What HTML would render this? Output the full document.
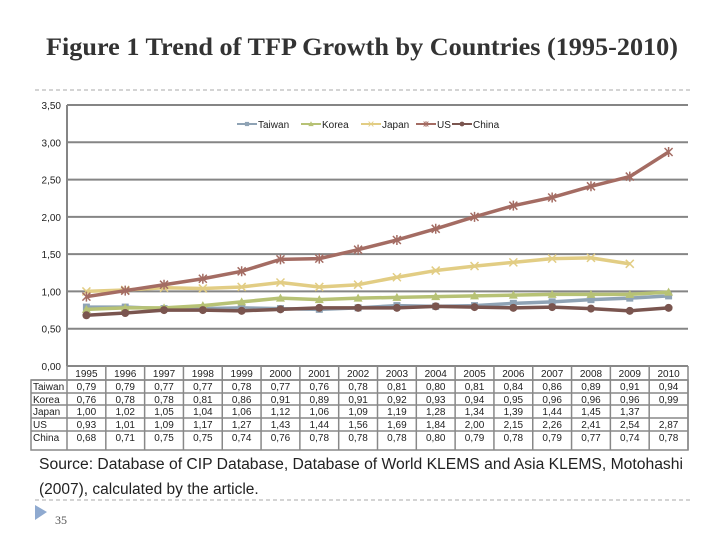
<!DOCTYPE html>
<html><head><meta charset="utf-8"><style>
body{margin:0;width:720px;height:540px;background:#fff;overflow:hidden;font-family:"Liberation Sans",sans-serif}
</style></head><body>
<svg id="s" width="720" height="540" xmlns="http://www.w3.org/2000/svg">
<text x="362" y="55" text-anchor="middle" font-family="Liberation Serif" font-weight="bold" font-size="25.5" fill="#333" textLength="632" lengthAdjust="spacingAndGlyphs">Figure 1 Trend of TFP Growth by Countries (1995-2010)</text>
<line x1="35" y1="90" x2="690" y2="90" stroke="#aaa" stroke-dasharray="4,3"/>
<line x1="35" y1="500" x2="690" y2="500" stroke="#aaa" stroke-dasharray="4,3"/>
<text x="39" y="469" font-size="15.5" fill="#222" textLength="644" lengthAdjust="spacingAndGlyphs">Source: Database of CIP Database, Database of World KLEMS and Asia KLEMS, Motohashi</text>
<text x="39" y="494" font-size="15.5" fill="#222">(2007), calculated by the article.</text>
<polygon points="35,505 47,512 35,520" fill="#8faad0"/>
<text x="55" y="524" font-family="Liberation Serif" font-size="12" fill="#555">35</text>
<g id="plot"></g>
</svg>
<script>
const years=["1995","1996","1997","1998","1999","2000","2001","2002","2003","2004","2005","2006","2007","2008","2009","2010"];
const seriesNames=["Taiwan","Korea","Japan","US","China"];
const taiwan=[0.79,0.79,0.77,0.77,0.78,0.77,0.76,0.78,0.81,0.80,0.81,0.84,0.86,0.89,0.91,0.94];
const korea=[0.76,0.78,0.78,0.81,0.86,0.91,0.89,0.91,0.92,0.93,0.94,0.95,0.96,0.96,0.96,0.99];
const japan=[1.00,1.02,1.05,1.04,1.06,1.12,1.06,1.09,1.19,1.28,1.34,1.39,1.44,1.45,1.37,null];
const us=[0.93,1.01,1.09,1.17,1.27,1.43,1.44,1.56,1.69,1.84,2.00,2.15,2.26,2.41,2.54,2.87];
const china=[0.68,0.71,0.75,0.75,0.74,0.76,0.78,0.78,0.78,0.80,0.79,0.78,0.79,0.77,0.74,0.78];
const yTicks=["0,00","0,50","1,00","1,50","2,00","2,50","3,00","3,50"];
const data=[taiwan,korea,japan,us,china];
const colors=["#8fa3b5","#b7c275","#e2cd84","#a46c63","#7a554f"];
const markers=["square","triangle","x","star","circle"];
const NS="http://www.w3.org/2000/svg";
const g=document.getElementById('plot');
const L=67,R=688,T=105,B=366,colW=(R-L)/years.length;
const x=i=>L+colW*(i+0.5);
const y=v=>B-(v/3.5)*(B-T);
function mk(t,a){const e=document.createElementNS(NS,t);for(const k in a)e.setAttribute(k,a[k]);g.appendChild(e);return e;}
yTicks.forEach((t,i)=>{const v=i*0.5;const yy=y(v);
 const l=mk('line',{x1:L,y1:yy,x2:R,y2:yy,stroke:'#858585','stroke-width':2});
 
 
 const tx=mk('text',{x:L-6,y:yy+4,'text-anchor':'end','font-size':10,fill:'#222'});tx.textContent=t;
 
 
});
const ax=mk('line',{x1:L,y1:T,x2:L,y2:B,stroke:'#858585','stroke-width':2});


function marker(type,cx,cy,c){let e;
 if(type=='square')e=mk('rect',{x:cx-3.5,y:cy-3.5,width:7,height:7,fill:c});
 else if(type=='triangle')e=mk('polygon',{points:`${cx},${cy-4.5} ${cx+4.5},${cy+3.5} ${cx-4.5},${cy+3.5}`,fill:c});
 else if(type=='circle')e=mk('circle',{cx:cx,cy:cy,r:4,fill:c});
 else {const d=type=='star'?`M${cx-4},${cy-4}L${cx+4},${cy+4}M${cx-4},${cy+4}L${cx+4},${cy-4}M${cx},${cy-5}L${cx},${cy+5}`:`M${cx-4},${cy-4}L${cx+4},${cy+4}M${cx-4},${cy+4}L${cx+4},${cy-4}`;
  e=mk('path',{d:d,stroke:c,'stroke-width':1.5,fill:'none'});}
 return e;}
data.forEach((s,si)=>{let d='';s.forEach((v,i)=>{if(v==null)return;d+=(d?'L':'M')+x(i)+','+y(v);});
 const p=mk('path',{d:d,fill:'none',stroke:colors[si],'stroke-width':3.5,'stroke-linejoin':'round'});
 
 
 s.forEach((v,i)=>{if(v==null)return;const m=marker(markers[si],x(i),y(v),colors[si]);
  
  });
});
// legend
const lx=[237,301,361,416,452];
seriesNames.forEach((n,i)=>{const lx0=lx[i],ly=124;
 const l=mk('line',{x1:lx0,y1:ly,x2:lx0+20,y2:ly,stroke:colors[i],'stroke-width':2});
 
 
 const m=marker(markers[i],lx0+10,ly,colors[i]);m.setAttribute('transform',`translate(${lx0+10},${ly}) scale(0.6) translate(${-(lx0+10)},${-ly})`);
 
 
 const t=mk('text',{x:lx0+21,y:ly+4,'font-size':10,fill:'#222'});t.textContent=n;
 
 
});
// table
const rowY=[366,380,393,405,418,431,450];
const TL=31;
mk('rect',{x:TL,y:380,width:R-TL,height:70,fill:'none',stroke:'#888','stroke-width':1.5});
mk('line',{x1:L,y1:366,x2:R,y2:366,stroke:'#888','stroke-width':1.5});
for(let r=1;r<rowY.length-1;r++){const ln=mk('line',{x1:TL,y1:rowY[r],x2:R,y2:rowY[r],stroke:'#888','stroke-width':1.5});
 
 }
for(let i=0;i<=years.length;i++){const xx=L+colW*i;const ln=mk('line',{x1:xx,y1:366,x2:xx,y2:450,stroke:'#888','stroke-width':1.5});
 
 }
years.forEach((yr,i)=>{const t=mk('text',{x:x(i),y:377,'text-anchor':'middle','font-size':10,fill:'#222'});t.textContent=yr;
 
 });
seriesNames.forEach((n,si)=>{const yy=rowY[si+1]+10;
 const t=mk('text',{x:TL+2,y:yy,'font-size':10,fill:'#222'});t.textContent=n;
 
 
 data[si].forEach((v,i)=>{if(v==null)return;const c=mk('text',{x:x(i),y:yy,'text-anchor':'middle','font-size':10,fill:'#222'});c.textContent=v.toFixed(2).replace('.',',');
  
  });
});
</script>
</body></html>
